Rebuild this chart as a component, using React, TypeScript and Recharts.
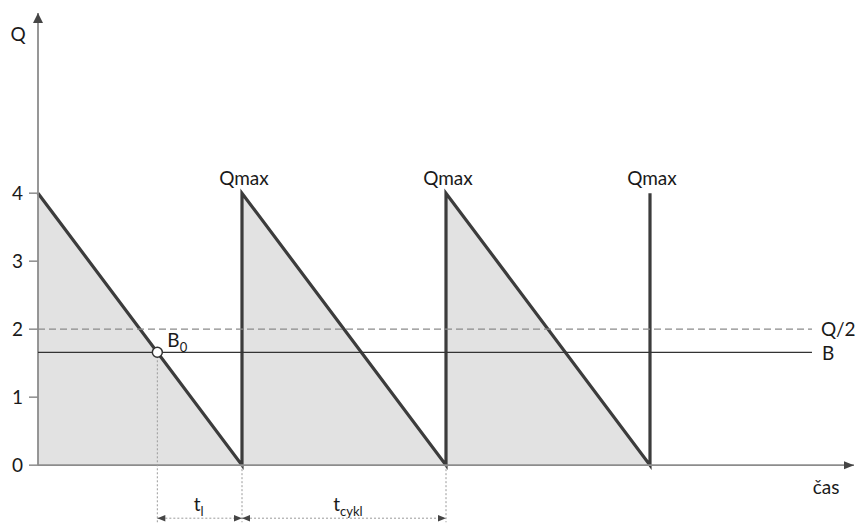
import React from "react";
import {
  ComposedChart,
  Area,
  Scatter,
  XAxis,
  YAxis,
  ReferenceLine,
  ReferenceDot,
} from "recharts";

// Inventory sawtooth: stock Q over time (one replenishment cycle = 1 time unit)
const sawTime = [0, 1, 1, 2, 2, 3, 3];
const sawStock = [4, 0, 4, 0, 4, 0, 4];
const peakTimes = [1, 2, 3];
const yTicks = [0, 1, 2, 3, 4];

const halfQ = 2; // Q/2 level
const reorderB = 1.66; // reorder level B
const lineEnd = 3.794; // where the Q/2 and B lines stop
const timeMax = 4;
const stockTop = 6.65;
const stockBottom = -0.88;
const dimLevel = -0.78; // level of the dimension arrows below the time axis
const dimBottom = -0.84;

const FONT = "Lato, 'Open Sans', sans-serif";
const TEXT = "#1a1a1a";
const AXIS = "#8c8c8c";
const DARK = "#3c3c3c";

const saw = sawTime.map((t, i) => ({ t, q: sawStock[i] }));
const qMax = sawStock[0];
const cycle = sawTime[1];
// B0: where the first drawdown crosses the reorder level
const tB0 = cycle * (1 - reorderB / qMax);

type Arrow = { t: number; q: number; dir: "up" | "right" | "left"; size: number };
const arrows: Arrow[] = [
  { t: 0, q: stockTop, dir: "up", size: 10 },
  { t: timeMax, q: 0, dir: "right", size: 10 },
  { t: tB0, q: dimLevel, dir: "left", size: 8 },
  { t: cycle, q: dimLevel, dir: "right", size: 8 },
  { t: cycle, q: dimLevel, dir: "left", size: 8 },
  { t: 2 * cycle, q: dimLevel, dir: "right", size: 8 },
];

type Label = {
  t: number;
  q: number;
  text: string;
  sub?: string;
  anchor: "start" | "middle" | "end";
  dx: number;
  dy: number;
};
const labels: Label[] = [
  { t: 0, q: stockTop, text: "Q", anchor: "middle", dx: -20, dy: 28 },
  ...peakTimes.map((t) => ({ t, q: qMax, text: "Qmax", anchor: "middle" as const, dx: 2, dy: -8 })),
  { t: lineEnd, q: halfQ, text: "Q/2", anchor: "start", dx: 9, dy: 7 },
  { t: lineEnd, q: reorderB, text: "B", anchor: "start", dx: 10, dy: 8 },
  { t: timeMax, q: 0, text: "čas", anchor: "middle", dx: -28, dy: 29 },
  { t: tB0, q: reorderB, text: "B", sub: "0", anchor: "start", dx: 10, dy: -5 },
  { t: (tB0 + cycle) / 2, q: dimLevel, text: "t", sub: "l", anchor: "middle", dx: -1, dy: -7 },
  { t: cycle * 1.5, q: dimLevel, text: "t", sub: "cykl", anchor: "middle", dx: 4, dy: -7 },
];

const ArrowHead = (props: any) => {
  const { cx, cy, payload } = props;
  const s = payload.size;
  const h = s * 0.5;
  let pts = "";
  if (payload.dir === "up") pts = `${cx},${cy} ${cx - h},${cy + s} ${cx + h},${cy + s}`;
  else if (payload.dir === "right") pts = `${cx},${cy} ${cx - s},${cy - h * 0.8} ${cx - s},${cy + h * 0.8}`;
  else pts = `${cx},${cy} ${cx + s},${cy - h * 0.8} ${cx + s},${cy + h * 0.8}`;
  return <polygon points={pts} fill="#454545" />;
};

const TextMark = (props: any) => {
  const { cx, cy, payload } = props;
  return (
    <text
      x={cx + payload.dx}
      y={cy + payload.dy}
      textAnchor={payload.anchor}
      fontFamily={FONT}
      fontSize={19}
      fill={TEXT}
    >
      {payload.text}
      {payload.sub ? (
        <tspan fontSize={13} dy={5}>
          {payload.sub}
        </tspan>
      ) : null}
    </text>
  );
};

const dotted = { stroke: "#9a9a9a", strokeWidth: 1, strokeDasharray: "2 2" };

export default function App() {
  return (
    <div style={{ position: "absolute", left: 0, top: 0, background: "#fff" }}>
      <ComposedChart
        width={856}
        height={525}
        margin={{ top: 13, right: 2, bottom: 0, left: 0 }}
      >
        <XAxis type="number" dataKey="t" domain={[0, timeMax]} hide />
        <YAxis
          type="number"
          domain={[stockBottom, stockTop]}
          ticks={yTicks}
          interval={0}
          width={38}
          axisLine={false}
          tickSize={9}
          tickMargin={6}
          tickLine={{ stroke: AXIS, strokeWidth: 1.5 }}
          tick={{ fill: TEXT, fontFamily: FONT, fontSize: 19 }}
        />

        <Area
          data={saw}
          dataKey="q"
          type="linear"
          fill="#e2e2e2"
          fillOpacity={1}
          stroke="none"
          baseValue={0}
          isAnimationActive={false}
        />

        {/* time and stock axes */}
        <ReferenceLine
          segment={[{ x: 0, y: 0 }, { x: timeMax, y: 0 }]}
          stroke={AXIS}
          strokeWidth={1.8}
        />
        <ReferenceLine
          segment={[{ x: 0, y: 0 }, { x: 0, y: stockTop }]}
          stroke={AXIS}
          strokeWidth={1.8}
        />

        {/* Q/2 and reorder level B */}
        <ReferenceLine
          segment={[{ x: 0, y: halfQ }, { x: lineEnd, y: halfQ }]}
          stroke="#8a8a8a"
          strokeWidth={1.2}
          strokeDasharray="7 4"
        />
        <ReferenceLine
          segment={[{ x: 0, y: reorderB }, { x: lineEnd, y: reorderB }]}
          stroke="#333"
          strokeWidth={1.2}
        />

        {/* dimension guides */}
        <ReferenceLine segment={[{ x: tB0, y: reorderB }, { x: tB0, y: dimBottom }]} {...dotted} />
        <ReferenceLine segment={[{ x: cycle, y: 0 }, { x: cycle, y: dimBottom }]} {...dotted} />
        <ReferenceLine segment={[{ x: 2 * cycle, y: 0 }, { x: 2 * cycle, y: dimBottom }]} {...dotted} />
        <ReferenceLine segment={[{ x: tB0, y: dimLevel }, { x: cycle, y: dimLevel }]} {...dotted} />
        <ReferenceLine segment={[{ x: cycle, y: dimLevel }, { x: 2 * cycle, y: dimLevel }]} {...dotted} />

        <Area
          data={saw}
          dataKey="q"
          type="linear"
          fill="none"
          stroke={DARK}
          strokeWidth={3.2}
          baseValue={0}
          isAnimationActive={false}
        />

        <ReferenceDot
          x={tB0}
          y={reorderB}
          r={5}
          fill="#fff"
          stroke="#333"
          strokeWidth={1.5}
        />

        <Scatter data={arrows} dataKey="q" shape={ArrowHead} isAnimationActive={false} />
        <Scatter data={labels} dataKey="q" shape={TextMark} isAnimationActive={false} />
      </ComposedChart>
    </div>
  );
}
